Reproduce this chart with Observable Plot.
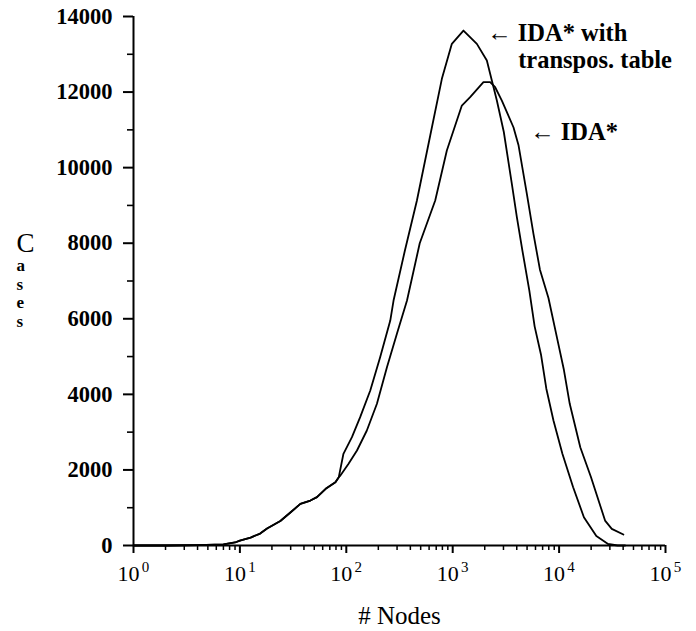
<!DOCTYPE html>
<html>
<head>
<meta charset="utf-8">
<script src="https://cdn.jsdelivr.net/npm/d3@7"></script>
<script src="https://cdn.jsdelivr.net/npm/@observablehq/plot@0.6"></script>
<style>
  html, body { margin: 0; padding: 0; background: #fff; }
  #chart svg { display: block; font-family: "Liberation Serif", serif; }
</style>
</head>
<body>
<div id="chart"></div>
<script>
// IDA* with transposition table (taller, left peak)
const nodesT = [1, 2, 4, 7, 9, 10, 12.6, 15.5, 18, 24, 30, 37, 46, 53, 64, 79, 85, 94, 113, 135, 168, 208, 259, 278, 355, 461, 615, 791, 982, 1262, 1687, 2094, 2333, 2600, 3020, 3597, 4009, 4519, 5248, 5888, 6761, 7586, 8851, 10740, 13552, 17100, 22387, 28840, 35480, 41690];
const casesT = [0, 0, 10, 30, 80, 130, 210, 315, 450, 650, 880, 1100, 1190, 1280, 1500, 1675, 1808, 2427, 2867, 3396, 4101, 4983, 5954, 6483, 7800, 9129, 10850, 12350, 13276, 13628, 13276, 12834, 12305, 11776, 10950, 9571, 8689, 7806, 6750, 5800, 5050, 4150, 3308, 2427, 1543, 749, 250, 40, 0, 0];
// IDA* (lower, right peak)
const nodesI = [1, 2, 4, 7, 9, 10, 12.6, 15.5, 18, 24, 30, 37, 46, 53, 64, 79, 85, 88, 105, 126, 156, 194, 241, 299, 372, 490, 685, 881, 1219, 1459, 1945, 2249, 2506, 2897, 3724, 4150, 4977, 5741, 6607, 7943, 9550, 11092, 12589, 15812, 19953, 27040, 31260, 40180];
const casesI = [0, 0, 10, 30, 80, 130, 210, 315, 450, 650, 880, 1100, 1190, 1280, 1500, 1675, 1808, 1852, 2162, 2514, 3043, 3750, 4718, 5601, 6483, 8000, 9129, 10452, 11643, 11864, 12261, 12261, 12128, 11776, 11069, 10600, 9306, 8248, 7300, 6550, 5500, 4650, 3750, 2602, 1807, 660, 441, 291];

const yMajorTicks = [0, 2000, 4000, 6000, 8000, 10000, 12000, 14000];
const yMinorTicks = [1000, 3000, 5000, 7000, 9000, 11000, 13000];
const xDecades = [1, 10, 100, 1000, 10000, 100000];
const xExponents = ["0", "1", "2", "3", "4", "5"];
const xMinorTicks = [2,3,4,5,6,7,8,9,20,30,40,50,60,70,80,90,200,300,400,500,600,700,800,900,2000,3000,4000,5000,6000,7000,8000,9000,20000,30000,40000,50000,60000,70000,80000,90000];

const annotations = [
  {nodes: 2109, cases: 13549, text: "\u2190 IDA* with"},
  {nodes: 4121, cases: 12834, text: "transpos. table"},
  {nodes: 5346, cases: 10929, text: "\u2190 IDA*"}
];
const xLabel = "# Nodes";
const yLabelFirst = "C";
const yLabelRest = "a\ns\ne\ns";

const dataT = nodesT.map((n, i) => ({nodes: n, cases: casesT[i]}));
const dataI = nodesI.map((n, i) => ({nodes: n, cases: casesI[i]}));

const serif = "Liberation Serif";

const chart = Plot.plot({
  width: 696,
  height: 631,
  marginLeft: 133,
  marginRight: 31,
  marginTop: 16,
  marginBottom: 86,
  x: {type: "log", domain: [1, 100000], axis: null, label: null},
  y: {domain: [0, 14000], axis: null, label: null},
  marks: [
    Plot.axisY({ticks: yMajorTicks, tickSize: 10, tickPadding: 11, strokeWidth: 2, label: null,
      tickFormat: d => String(d), fontSize: 22.5, fontWeight: "bold", fontFamily: serif}),
    Plot.axisY({ticks: yMinorTicks, tickSize: 6, text: null, label: null, strokeWidth: 1.6}),
    Plot.axisX({ticks: xDecades, tickSize: 8, text: null, label: null, strokeWidth: 2}),
    Plot.axisX({ticks: xMinorTicks, tickSize: 5, text: null, label: null, strokeWidth: 1.5}),
    Plot.ruleX([1], {y1: 0, y2: 14000, stroke: "black", strokeWidth: 2}),
    Plot.ruleY([0], {x1: 1, x2: 100000, stroke: "black", strokeWidth: 2}),
    Plot.text(xDecades, {x: d => d, frameAnchor: "bottom", dy: 35, dx: -5, text: () => "10",
      fontSize: 22, fontFamily: serif, fill: "black"}),
    Plot.text(xDecades, {x: d => d, frameAnchor: "bottom", dy: 26, dx: 12, text: (d, i) => xExponents[i],
      fontSize: 15, fontFamily: serif, fill: "black"}),
    Plot.text([xLabel], {frameAnchor: "bottom", dy: 78, fontSize: 25, fontFamily: serif, fill: "black"}),
    Plot.text([yLabelFirst], {frameAnchor: "left", dx: -117, dy: -38, fontSize: 27, fontFamily: serif, fill: "black"}),
    Plot.text([yLabelRest], {frameAnchor: "left", dx: -117, dy: 12, lineHeight: 1.1, fontSize: 17, fontWeight: "bold", fontFamily: serif, fill: "black"}),
    Plot.line(dataT, {x: "nodes", y: "cases", stroke: "black", strokeWidth: 1.8}),
    Plot.line(dataI, {x: "nodes", y: "cases", stroke: "black", strokeWidth: 1.8}),
    Plot.text(annotations, {x: "nodes", y: "cases", text: "text", textAnchor: "start",
      fontSize: 24.5, fontWeight: "bold", fontFamily: serif, fill: "black"})
  ]
});
document.getElementById("chart").appendChild(chart);
</script>
</body>
</html>
